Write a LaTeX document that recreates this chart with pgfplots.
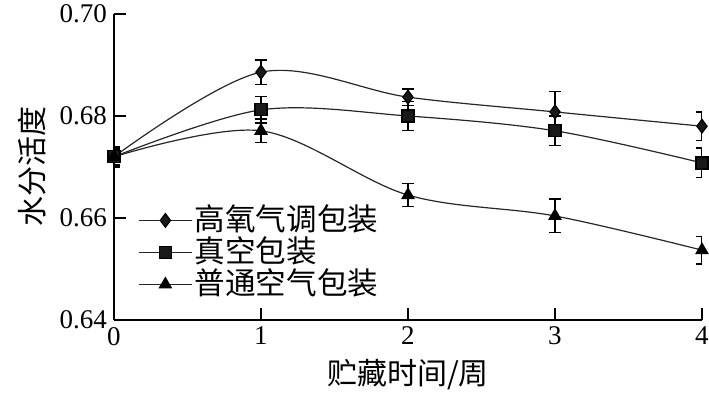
\documentclass[border=0pt]{standalone}
\usepackage{fontspec}
\setmainfont{Liberation Serif}
\newfontfamily\cjk{Noto Sans CJK SC}
\usepackage{pgfplots}
\pgfplotsset{compat=1.18}
\begin{document}
\begin{tikzpicture}
\useasboundingbox (-57pt,-37pt) rectangle (297.5pt,160pt);
\begin{axis}[
  at={(0,0)}, anchor=south west,
  scale only axis, width=294pt, height=153pt,
  xmin=0, xmax=4, ymin=0.64, ymax=0.70,
  axis x line*=bottom, axis y line*=left,
  axis line style={-, line width=1pt},
  xtick={0,1,2,3,4}, ytick={0.64,0.66,0.68,0.70},
  tick align=inside, major tick length=6pt,
  tick style={black, line width=0.8pt},
  /pgf/number format/assume math mode=true,
  ticklabel style={font=\fontsize{13.5}{15}\selectfont},
  yticklabel style={/pgf/number format/fixed, /pgf/number format/precision=2, /pgf/number format/fixed zerofill},
  scaled y ticks=false,
  xlabel={\cjk 贮藏时间/周},
  ylabel={\cjk 水分活度},
  label style={font=\fontsize{15}{17}\selectfont},
  xlabel style={at={(axis description cs:0.5,-0.18)}, anchor=center},
  ylabel style={at={(axis description cs:-0.139,0.5)}, anchor=center},
  legend style={at={(axis description cs:0.03,0.392)}, anchor=north west, draw=none, fill=none,
    font=\cjk\fontsize{15.3}{16}\selectfont, row sep=0pt,
    nodes={text height=12pt, text depth=2pt, inner sep=1pt}},
  legend cell align=left,
  legend image code/.code={\draw[#1, mark repeat=2, mark phase=2] plot coordinates {(0cm,0cm) (0.47cm,0cm) (0.94cm,0cm)};},
  error bars/error bar style={black, line width=0.7pt},
  error bars/error mark options={black, rotate=90, mark size=3pt, line width=0.7pt},
]
\addplot[black!85, line width=0.6pt, smooth, tension=0.55, mark=diamond*, mark size=3.4pt, mark options={black, fill=black!90}, error bars/.cd, y dir=both, y explicit]
  coordinates {(0,0.6720) +- (0,0.0018) (1,0.6886) +- (0,0.0024) (2,0.6837) +- (0,0.0016) (3,0.6808) +- (0,0.0040) (4,0.6780) +- (0,0.0028)};
\addlegendentry{高氧气调包装}
\addplot[black!85, line width=0.6pt, smooth, tension=0.55, mark=square*, mark size=3pt, mark options={black, fill=black!90}, error bars/.cd, y dir=both, y explicit]
  coordinates {(0,0.6720) +- (0,0.0020) (1,0.6812) +- (0,0.0026) (2,0.6800) +- (0,0.0029) (3,0.6771) +- (0,0.0029) (4,0.6708) +- (0,0.0029)};
\addlegendentry{真空包装}
\addplot[black!85, line width=0.6pt, smooth, tension=0.55, mark=triangle*, mark size=3.4pt, mark options={black, fill=black}, error bars/.cd, y dir=both, y explicit]
  coordinates {(0,0.6720) +- (0,0.0015) (1,0.6771) +- (0,0.0023) (2,0.6645) +- (0,0.0023) (3,0.6604) +- (0,0.0033) (4,0.6537) +- (0,0.0027)};
\addlegendentry{普通空气包装}
\end{axis}
\end{tikzpicture}
\end{document}
